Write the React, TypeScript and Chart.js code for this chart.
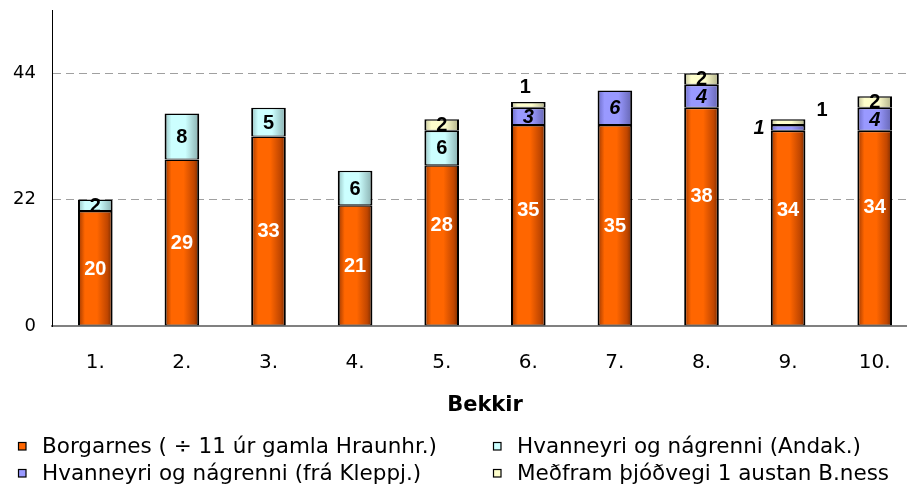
import { useEffect, useRef } from "react";
import { Chart, registerables } from "chart.js";

Chart.register(...registerables);

// ---- data ----
const categories = ["1.", "2.", "3.", "4.", "5.", "6.", "7.", "8.", "9.", "10."];
const borgarnes = [20, 29, 33, 21, 28, 35, 35, 38, 34, 34];
const andak = [2, 8, 5, 6, 6, 0, 0, 0, 0, 0];
const kleppj = [0, 0, 0, 0, 0, 3, 6, 4, 1, 4];
const medfram = [0, 0, 0, 0, 2, 1, 0, 2, 1, 2];
const yTicks = [0, 22, 44];
const yMax = 55;
const seriesNames = [
  "Borgarnes ( ÷ 11 úr gamla Hraunhr.)",
  "Hvanneyri og nágrenni (Andak.)",
  "Hvanneyri og nágrenni (frá Kleppj.)",
  "Meðfram þjóðvegi 1 austan B.ness",
];
const xTitle = "Bekkir";

// label nudges (pixels), styling only
const zeros = [0, 0, 0, 0, 0, 0, 0, 0, 0, 0];
const borgarnesLabelDy = [0, 0, 0, 0, -21, -16, 0, -21, -19, -22];
const kleppjLabelDx = [0, 0, 0, 0, 0, 0, 0, 0, -29, 0];
const medframLabelDx = [0, 0, 0, 0, 0, -3, 0, 0, 34, 0];
const medframLabelDy = [0, 0, 0, 0, 0, -18, 0, 0, -13, 0];

const BAR_PCT = 0.4;
const FONT = '"DejaVu Sans", sans-serif';
const LFONT = '"Liberation Sans", Arial, sans-serif';

const flatColors = ["#FF6600", "#CCFFFF", "#9999FF", "#FFFFCC"];
const gradStops: [number, string][][] = [
  [[0, "#9A3600"], [0.2, "#FF6600"], [0.55, "#FF6600"], [0.85, "#C04600"], [1, "#742A00"]],
  [[0, "#94C0C0"], [0.2, "#CCFFFF"], [0.6, "#CCFFFF"], [1, "#88AEAE"]],
  [[0, "#6A6AC4"], [0.2, "#9999FF"], [0.6, "#9999FF"], [1, "#6464B0"]],
  [[0, "#BEBE96"], [0.2, "#FFFFCC"], [0.6, "#FFFFCC"], [1, "#B0B088"]],
];

function barFill(i: number) {
  return (c: any) => {
    const chart = c.chart;
    const xs = chart.scales && chart.scales.x;
    if (!xs || c.type !== "data" || !isFinite(xs.left)) return flatColors[i];
    const cx = xs.getPixelForValue(c.dataIndex);
    const cw = ((xs.right - xs.left) / categories.length) * BAR_PCT;
    const g = chart.ctx.createLinearGradient(cx - cw / 2, 0, cx + cw / 2, 0);
    gradStops[i].forEach(([o, col]) => g.addColorStop(o, col));
    return g;
  };
}

const overlay = {
  id: "overlay",
  afterDatasetsDraw(chart: any) {
    const ctx = chart.ctx;
    const specs = [
      { font: `bold 20px ${LFONT}`, color: "#FFFFFF", dx: zeros, dy: borgarnesLabelDy },
      { font: `bold 20px ${LFONT}`, color: "#000000", dx: zeros, dy: zeros },
      { font: `italic bold 20px ${LFONT}`, color: "#000000", dx: kleppjLabelDx, dy: zeros },
      { font: `bold 20px ${LFONT}`, color: "#000000", dx: medframLabelDx, dy: medframLabelDy },
    ];
    ctx.save();
    ctx.textAlign = "center";
    ctx.textBaseline = "middle";
    chart.data.datasets.forEach((ds: any, i: number) => {
      const meta = chart.getDatasetMeta(i);
      const s = specs[i];
      meta.data.forEach((el: any, j: number) => {
        const v = ds.data[j];
        if (v == null) return;
        ctx.font = s.font;
        ctx.fillStyle = s.color;
        ctx.fillText(String(v), el.x + s.dx[j], (el.y + el.base) / 2 + s.dy[j] + 1);
      });
    });
    ctx.restore();
  },
  afterDraw(chart: any) {
    const ctx = chart.ctx;
    const area = chart.chartArea;
    ctx.save();
    ctx.fillStyle = "#000";
    ctx.textAlign = "center";
    ctx.textBaseline = "middle";
    ctx.font = `bold 21px ${FONT}`;
    ctx.fillText(xTitle, (area.left + area.right) / 2, 406);

    const colX = [18, 493];
    const rowY = [446, 473];
    ctx.font = `21.5px ${FONT}`;
    ctx.textAlign = "left";
    seriesNames.forEach((name, i) => {
      const x = colX[i % 2];
      const y = rowY[Math.floor(i / 2)];
      ctx.fillStyle = flatColors[i];
      ctx.fillRect(x, y - 4, 8, 8);
      ctx.strokeStyle = "#000";
      ctx.lineWidth = 1.2;
      ctx.strokeRect(x + 0.5, y - 3.5, 7.5, 7.5);
      ctx.fillStyle = "#000";
      ctx.fillText(name, x + 24, y + 1);
    });
    ctx.restore();
  },
};

export default function App() {
  const ref = useRef<HTMLCanvasElement | null>(null);
  useEffect(() => {
    if (!ref.current) return;
    const series = [borgarnes, andak, kleppj, medfram];
    const chart = new Chart(ref.current, {
      type: "bar",
      data: {
        labels: categories,
        datasets: series.map((arr, i) => ({
          label: seriesNames[i],
          data: arr.map((v) => (v ? v : null)),
          backgroundColor: barFill(i),
          borderColor: "#000000",
          borderWidth: { top: 1.5, bottom: 1, left: 2, right: 2 },
          borderSkipped: false,
          barPercentage: BAR_PCT,
          categoryPercentage: 1,
        })),
      },
      options: {
        responsive: false,
        animation: false,
        events: [],
        layout: { padding: { left: 0, top: 10, right: 7, bottom: 0 } },
        plugins: { legend: { display: false }, tooltip: { enabled: false }, title: { display: false } },
        scales: {
          x: {
            stacked: true,
            grid: { display: false, drawTicks: false, tickLength: 0 },
            border: { display: true, color: "#808080", width: 2 },
            ticks: { color: "#000", font: { family: FONT, size: 20 }, padding: 25, maxRotation: 0, autoSkip: false },
            afterFit: (s: any) => {
              s.height = 160;
              s.paddingLeft = 0;
              s.paddingRight = 0;
            },
          },
          y: {
            stacked: true,
            min: 0,
            max: yMax,
            grid: {
              drawTicks: false,
              tickLength: 0,
              lineWidth: 1,
              color: (c: any) => (c.tick && c.tick.value === 0 ? "rgba(0,0,0,0)" : "#A0A0A0"),
            },
            border: { display: true, color: "#000000", width: 1, dash: [8, 5] },
            ticks: { color: "#000", font: { family: FONT, size: 18 }, padding: 16 },
            afterBuildTicks: (s: any) => {
              s.ticks = yTicks.map((v) => ({ value: v }));
            },
            afterFit: (s: any) => {
              s.width = 52;
              s.paddingTop = 0;
              s.paddingBottom = 0;
            },
          },
        },
      },
      plugins: [overlay],
    } as any);
    return () => chart.destroy();
  }, []);

  return (
    <div style={{ position: "fixed", left: 0, top: 0, width: 907, height: 486, overflow: "hidden", background: "#fff" }}>
      <canvas ref={ref} width={925} height={486} style={{ display: "block" }} />
    </div>
  );
}
